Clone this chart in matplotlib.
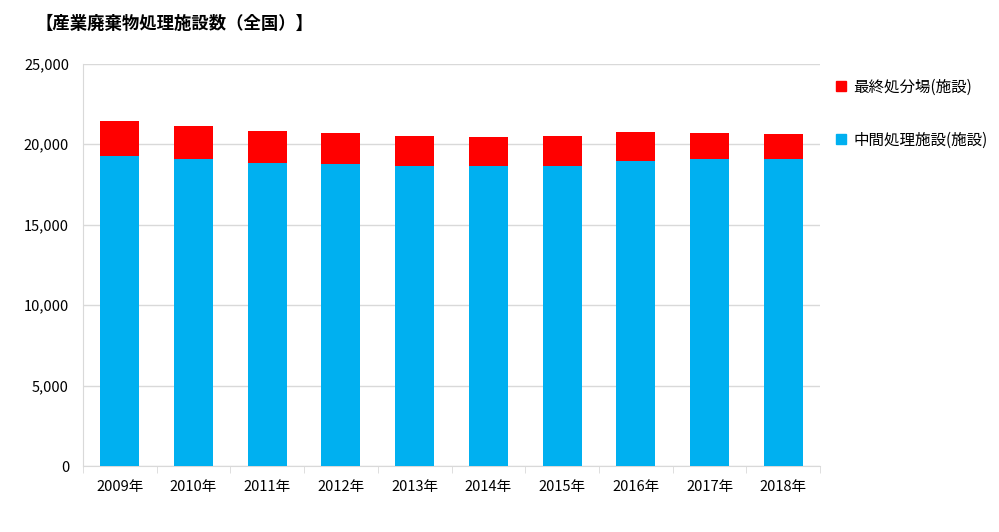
import matplotlib
matplotlib.use("Agg")
import matplotlib.pyplot as plt
from matplotlib.patches import Patch

plt.rcParams['font.family'] = ['Noto Sans CJK JP', 'DejaVu Sans']

years = ['2009年', '2010年', '2011年', '2012年', '2013年',
         '2014年', '2015年', '2016年', '2017年', '2018年']
# 中間処理施設 (blue, bottom) and 最終処分場 (red, stacked on top)
chukan = [19270, 19090, 18840, 18780, 18650, 18630, 18680, 18960, 19070, 19070]
saishu = [2160, 2070, 1990, 1950, 1890, 1850, 1820, 1800, 1660, 1590]
yticks = [0, 5000, 10000, 15000, 20000, 25000]

fig = plt.figure(figsize=(9.99, 5.32), dpi=100)
ax = fig.add_axes([0.083, 0.124, 0.738, 0.756])

x = range(len(years))
ax.bar(x, chukan, width=0.53, color='#00B0F0', zorder=3)
ax.bar(x, saishu, width=0.53, bottom=chukan, color='#FF0000', zorder=3)

ax.set_ylim(0, 25000)
ax.set_xlim(-0.5, len(years) - 0.5)
ax.set_yticks(yticks)
ax.set_yticklabels([f"{v:,}" for v in yticks], fontsize=10.5)
ax.yaxis.grid(True, color='#d9d9d9', linewidth=1, zorder=0)
ax.tick_params(axis='y', length=0, pad=10)

ax.set_xticks(x)
ax.set_xticklabels(years, fontsize=10.5)
ax.tick_params(axis='x', length=0, pad=10)
ax.set_xticks([i - 0.5 for i in range(len(years) + 1)], minor=True)
ax.tick_params(axis='x', which='minor', length=5, color='#d9d9d9')

for side in ['top', 'right']:
    ax.spines[side].set_visible(False)
for side in ['left', 'bottom']:
    ax.spines[side].set_color('#d9d9d9')

fig.text(0.036, 0.955, '【産業廃棄物処理施設数（全国）】', fontsize=12.5,
         fontweight='bold', ha='left', va='center')

handles = [Patch(color='#FF0000'), Patch(color='#00B0F0')]
labels = ['最終処分場(施設)', '中間処理施設(施設)']
fig.legend(handles, labels, loc='upper left', bbox_to_anchor=(0.823, 0.878),
           frameon=False, fontsize=11.2, handlelength=0.6, handleheight=0.6,
           handletextpad=0.5, labelspacing=2.3)

fig.savefig('out.png', dpi=100)
